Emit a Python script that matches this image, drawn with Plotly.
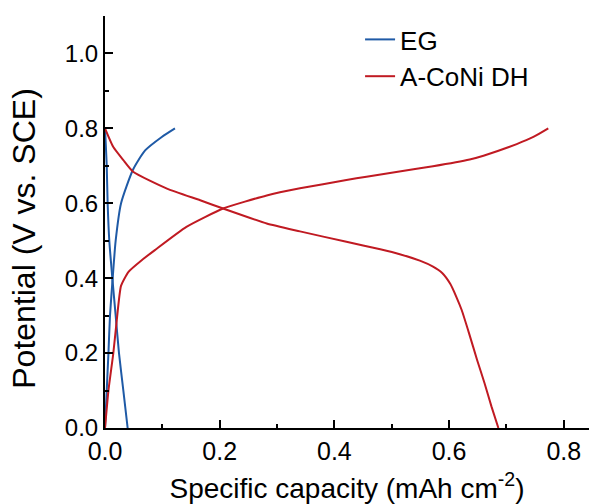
import plotly.graph_objects as go

# EG charge (rising) and discharge (descending)
eg_charge_x = [0, 0.003, 0.006, 0.0087, 0.0134, 0.0186, 0.028, 0.049, 0.07, 0.099, 0.122]
eg_charge_y = [0, 0.1, 0.2, 0.3, 0.4, 0.5, 0.6, 0.69, 0.741, 0.777, 0.8]
eg_dis_x = [0, 0.003, 0.0046, 0.0075, 0.0128, 0.0186, 0.0244, 0.032, 0.0395]
eg_dis_y = [0.8, 0.7, 0.6, 0.5, 0.4, 0.3, 0.2, 0.1, 0]

# A-CoNi DH charge (rising) and discharge (descending)
co_charge_x = [0, 0.006, 0.0145, 0.02, 0.028, 0.041, 0.064, 0.087, 0.142, 0.206, 0.282,
               0.34, 0.421, 0.456, 0.538, 0.572, 0.636, 0.66, 0.718, 0.747, 0.773]
co_charge_y = [0, 0.1, 0.2, 0.28, 0.38, 0.417, 0.448, 0.475, 0.537, 0.586, 0.621,
               0.64, 0.662, 0.671, 0.691, 0.699, 0.717, 0.727, 0.758, 0.777, 0.8]
co_dis_x = [0, 0.0145, 0.032, 0.049, 0.108, 0.166, 0.206, 0.282, 0.34, 0.421, 0.48,
            0.514, 0.549, 0.572, 0.588, 0.602, 0.613, 0.622, 0.635, 0.649, 0.662, 0.674, 0.686]
co_dis_y = [0.8, 0.75, 0.715, 0.684, 0.639, 0.608, 0.586, 0.546, 0.525, 0.497, 0.477,
            0.464, 0.447, 0.431, 0.414, 0.385, 0.349, 0.315, 0.252, 0.181, 0.119, 0.057, 0]

x_ticks = [0.0, 0.2, 0.4, 0.6, 0.8]
y_ticks = [0.0, 0.2, 0.4, 0.6, 0.8, 1.0]

BLUE = "#1f5aa6"
RED = "#c01a22"
FONT = "Liberation Sans, Arial, sans-serif"

fig = go.Figure()
fig.add_trace(go.Scatter(x=eg_charge_x, y=eg_charge_y, mode="lines", name="EG",
                         line=dict(color=BLUE, width=2, shape="spline", smoothing=0.6), legendgroup="eg"))
fig.add_trace(go.Scatter(x=eg_dis_x, y=eg_dis_y, mode="lines", name="EG",
                         line=dict(color=BLUE, width=2, shape="spline", smoothing=0.6),
                         legendgroup="eg", showlegend=False))
fig.add_trace(go.Scatter(x=co_charge_x, y=co_charge_y, mode="lines", name="A-CoNi DH",
                         line=dict(color=RED, width=2, shape="spline", smoothing=0.5), legendgroup="co"))
fig.add_trace(go.Scatter(x=co_dis_x, y=co_dis_y, mode="lines", name="A-CoNi DH",
                         line=dict(color=RED, width=2, shape="spline", smoothing=0.5),
                         legendgroup="co", showlegend=False))

fig.update_layout(
    width=589, height=504,
    margin=dict(l=105, r=0, t=16, b=76),
    paper_bgcolor="white", plot_bgcolor="white",
    font=dict(family=FONT, size=24, color="black"),
    showlegend=True,
    legend=dict(x=0.527, y=1.0, xanchor="left", yanchor="top",
                bgcolor="rgba(0,0,0,0)", font=dict(size=26, family=FONT),
                tracegroupgap=0),
    xaxis=dict(range=[0, 0.844], tickvals=x_ticks, tickformat=".1f",
               showline=True, linecolor="black", linewidth=2,
               ticks="inside", ticklen=8, tickwidth=2, tickcolor="black",
               minor=dict(ticks="inside", ticklen=4, tickwidth=2, dtick=0.1, tickcolor="black"),
               showgrid=False, zeroline=False,
               title=dict(text="Specific capacity (mAh cm<sup>-2</sup>)", font=dict(size=28), standoff=15),
               tickfont=dict(size=25)),
    yaxis=dict(range=[0, 1.1], tickvals=y_ticks, tickformat=".1f",
               showline=True, linecolor="black", linewidth=2,
               ticks="inside", ticklen=8, tickwidth=2, tickcolor="black",
               minor=dict(ticks="inside", ticklen=4, tickwidth=2, dtick=0.1, tickcolor="black"),
               showgrid=False, zeroline=False,
               tickfont=dict(size=24)),
    annotations=[dict(text="Potential (V vs. SCE)", textangle=-90,
                      xref="paper", yref="paper", x=-0.168, y=0.461,
                      xanchor="center", yanchor="middle", showarrow=False,
                      font=dict(size=32, family=FONT, color="black"))],
)

fig.write_html("out.html")
